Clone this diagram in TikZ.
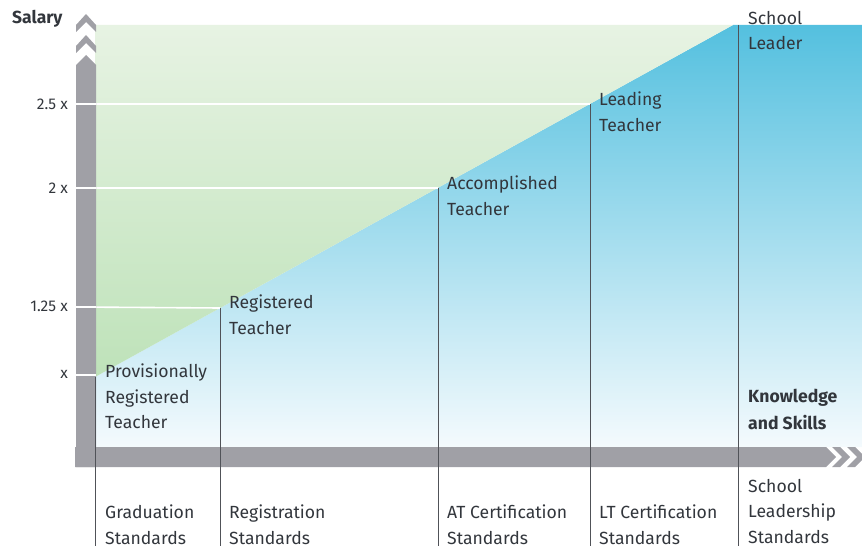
\documentclass[tikz,border=0pt]{standalone}
\usepackage{fontspec}
\setmainfont{Fira Sans}
\definecolor{axisgray}{RGB}{160,160,166}
\definecolor{rule}{RGB}{80,82,88}
\definecolor{txt}{RGB}{50,54,60}
\definecolor{blueTop}{RGB}{84,192,223}
\definecolor{blueMid}{RGB}{168,218,237}
\definecolor{blueBot}{RGB}{244,250,253}
\definecolor{greenTop}{RGB}{231,243,227}
\definecolor{greenBot}{RGB}{190,226,185}
\begin{document}
\begin{tikzpicture}[x=1pt,y=-1pt,
  lbl/.style={font=\fontsize{17.6}{25.5}\selectfont, text=txt, align=left, anchor=north west, inner sep=0pt},
  boldlbl/.style={lbl, font=\fontsize{17.6}{27}\selectfont\bfseries},
  ticklbl/.style={font=\fontsize{15.5}{17}\selectfont, text=txt, anchor=base east, inner sep=0pt},
  stageline/.style={draw=rule, line width=0.9pt},
  level/.style={draw=white, line width=1.6pt},
  axisbar/.style={fill=axisgray, draw=none}]
\useasboundingbox (0,0) rectangle (862,551);

% stage points on the salary diagonal
\coordinate (s0) at (95,377);
\coordinate (s1) at (220,308);
\coordinate (s2) at (438,188);
\coordinate (s3) at (590,104);
\coordinate (s4) at (738,25);
\coordinate (d1) at (733,25);
% lower ends of the stage rules
\coordinate (b0) at (95,546);
\coordinate (b1) at (220,546);
\coordinate (b2) at (438,546);
\coordinate (b3) at (590,546);
\coordinate (b4) at (738,546);

% blue band under the diagonal
\shade[top color=blueTop, middle color=blueMid, bottom color=blueBot]
  (s0) -- (d1) -- (862,25) -- (862,447) -- (95,447) -- cycle;
% green band above the diagonal
\shade[top color=greenTop, bottom color=greenBot]
  (95,25) -- (d1) -- (s0) -- cycle;

% salary levels
\coordinate (l0) at (76,375);
\coordinate (l1) at (76,307);
\coordinate (l2) at (76,188);
\coordinate (l3) at (76,104);
\draw[level] (l0) -- (s0);
\draw[level] (l1) -- (s1);
\draw[level] (l2) -- (s2);
\draw[level] (l3) -- (s3);

% vertical axis with chevrons
\fill[axisbar] (76,467) -- (76,65) -- (86,55) -- (96,65) -- (96,467) -- cycle;
\fill[axisbar] (76,46) -- (86,35) -- (96,46) -- (96,53) -- (86,43) -- (76,53) -- cycle;
\fill[axisbar] (76,25) -- (86,14) -- (96,25) -- (96,32) -- (86,22) -- (76,32) -- cycle;
% horizontal axis with chevrons
\fill[axisbar] (75,447) -- (826,447) -- (836,457) -- (826,467) -- (75,467) -- cycle;
\fill[axisbar] (832,447) -- (840,447) -- (850,457) -- (840,467) -- (832,467) -- (842,457) -- cycle;
\fill[axisbar] (847,447) -- (855,447) -- (865,457) -- (855,467) -- (847,467) -- (857,457) -- cycle;

% level lines across the vertical bar
\draw[level] (l0) -- (96,375);
\draw[level] (l1) -- (96,307);
\draw[level] (l2) -- (96,188);
\draw[level] (l3) -- (96,104);

% stage rules
\draw[stageline] (s0) -- (b0);
\draw[stageline] (s1) -- (b1);
\draw[stageline] (s2) -- (b2);
\draw[stageline] (s3) -- (b3);
\draw[stageline] (s4) -- (b4);

% axis titles
\node[font=\fontsize{17.5}{19}\selectfont\bfseries, text=txt, anchor=base west, inner sep=0pt] (salary) at (12,24) {Salary};
\node[boldlbl] (ks) at (748,389) {Knowledge\\and Skills};

% salary multiples
\node[ticklbl] (t3) at (68,109) {2.5 x};
\node[ticklbl] (t2) at (68,193) {2 x};
\node[ticklbl] (t1) at (68,311) {1.25 x};
\node[ticklbl] (t0) at (68,378) {x};

% career stages
\node[lbl] (p0) at (105,364) {Provisionally\\Registered\\Teacher};
\node[lbl] (p1) at (229,295) {Registered\\Teacher};
\node[lbl] (p2) at (447,176) {Accomplished\\Teacher};
\node[lbl] (p3) at (599,92) {Leading\\Teacher};
\node[lbl] (p4) at (748,11) {School\\Leader};

% standards
\node[lbl] (q0) at (105,505) {Graduation\\Standards};
\node[lbl] (q1) at (229,505) {Registration\\Standards};
\node[lbl] (q2) at (447,505) {AT Certification\\Standards};
\node[lbl] (q3) at (599,505) {LT Certification\\Standards};
\node[lbl] (q4) at (748,479) {School\\Leadership\\Standards};
\end{tikzpicture}
\end{document}
